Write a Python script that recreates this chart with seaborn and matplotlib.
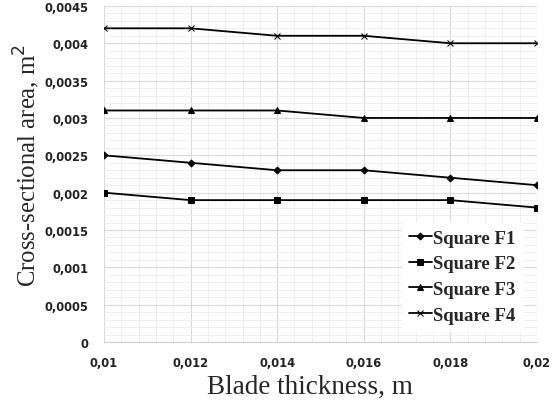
import matplotlib
matplotlib.use("Agg")
import matplotlib.pyplot as plt
import seaborn as sns
import pandas as pd
from matplotlib.ticker import MultipleLocator, FuncFormatter

thickness = [0.01, 0.012, 0.014, 0.016, 0.018, 0.02]
f1 = [0.0025, 0.0024, 0.0023, 0.0023, 0.0022, 0.0021]
f2 = [0.0020, 0.0019, 0.0019, 0.0019, 0.0019, 0.0018]
f3 = [0.0031, 0.0031, 0.0031, 0.0030, 0.0030, 0.0030]
f4 = [0.0042, 0.0042, 0.0041, 0.0041, 0.0040, 0.0040]
names = ["Square F1", "Square F2", "Square F3", "Square F4"]

sns.set_style("white")
fig = plt.figure(figsize=(5.53, 4.06), dpi=100)
ax = fig.add_axes([0.188, 0.155, 0.783, 0.828])

markers = ["D", "s", "^", "x"]
msizes = [3.5, 5, 5, 5]
for n, vals, m, ms in zip(names, [f1, f2, f3, f4], markers, msizes):
    d = pd.DataFrame({"x": thickness, "y": vals})
    sns.lineplot(data=d, x="x", y="y", color="black", marker=m,
                 markersize=ms, markeredgecolor="black", markerfacecolor="black",
                 linewidth=1.3, label=n, ax=ax)

ax.set_xlim(0.01, 0.02)
ax.set_ylim(0, 0.0045)
ax.xaxis.set_major_locator(MultipleLocator(0.002))
ax.xaxis.set_minor_locator(MultipleLocator(0.0004))
ax.yaxis.set_major_locator(MultipleLocator(0.0005))
ax.yaxis.set_minor_locator(MultipleLocator(0.0001))

def fmt(v, pos):
    s = ("%.4f" % v).rstrip("0").rstrip(".")
    if s == "" or float(s) == 0:
        s = "0"
    return s.replace(".", ",")
ax.xaxis.set_major_formatter(FuncFormatter(fmt))
ax.yaxis.set_major_formatter(FuncFormatter(fmt))

ax.grid(True, which="major", color="#d9d9d9", linewidth=0.8)
ax.grid(True, which="minor", color="#ececec", linewidth=0.6)
ax.set_axisbelow(True)
for s in ["top", "right", "left"]:
    ax.spines[s].set_visible(False)
ax.spines["bottom"].set_color("#d0d0d0")
ax.tick_params(axis="y", length=0, labelsize=8.3, pad=11)
ax.tick_params(axis="x", length=0, labelsize=8.3, pad=10)
for lab in ax.get_xticklabels() + ax.get_yticklabels():
    lab.set_fontweight("bold")
    lab.set_family("DejaVu Sans")
    lab.set_color("#222222")

ax.set_xlabel("Blade thickness, m", family="Liberation Serif", fontsize=19.5)
ax.set_ylabel("Cross-sectional area, m$^2$", family="Liberation Serif", fontsize=17.8)
ax.xaxis.set_label_coords(0.476, -0.095)
ax.yaxis.set_label_coords(-0.142, 0.527)

leg = ax.legend(loc="lower right", bbox_to_anchor=(0.99, 0.005), frameon=True,
                prop={"family": "Liberation Serif", "weight": "bold", "size": 13.5},
                handlelength=1.2, handletextpad=0.1, labelspacing=0.45,
                borderpad=0.4, fancybox=False)
leg.get_frame().set_edgecolor("white")
leg.get_frame().set_facecolor("white")
leg.get_frame().set_alpha(1)

fig.savefig("out.png", dpi=100)
